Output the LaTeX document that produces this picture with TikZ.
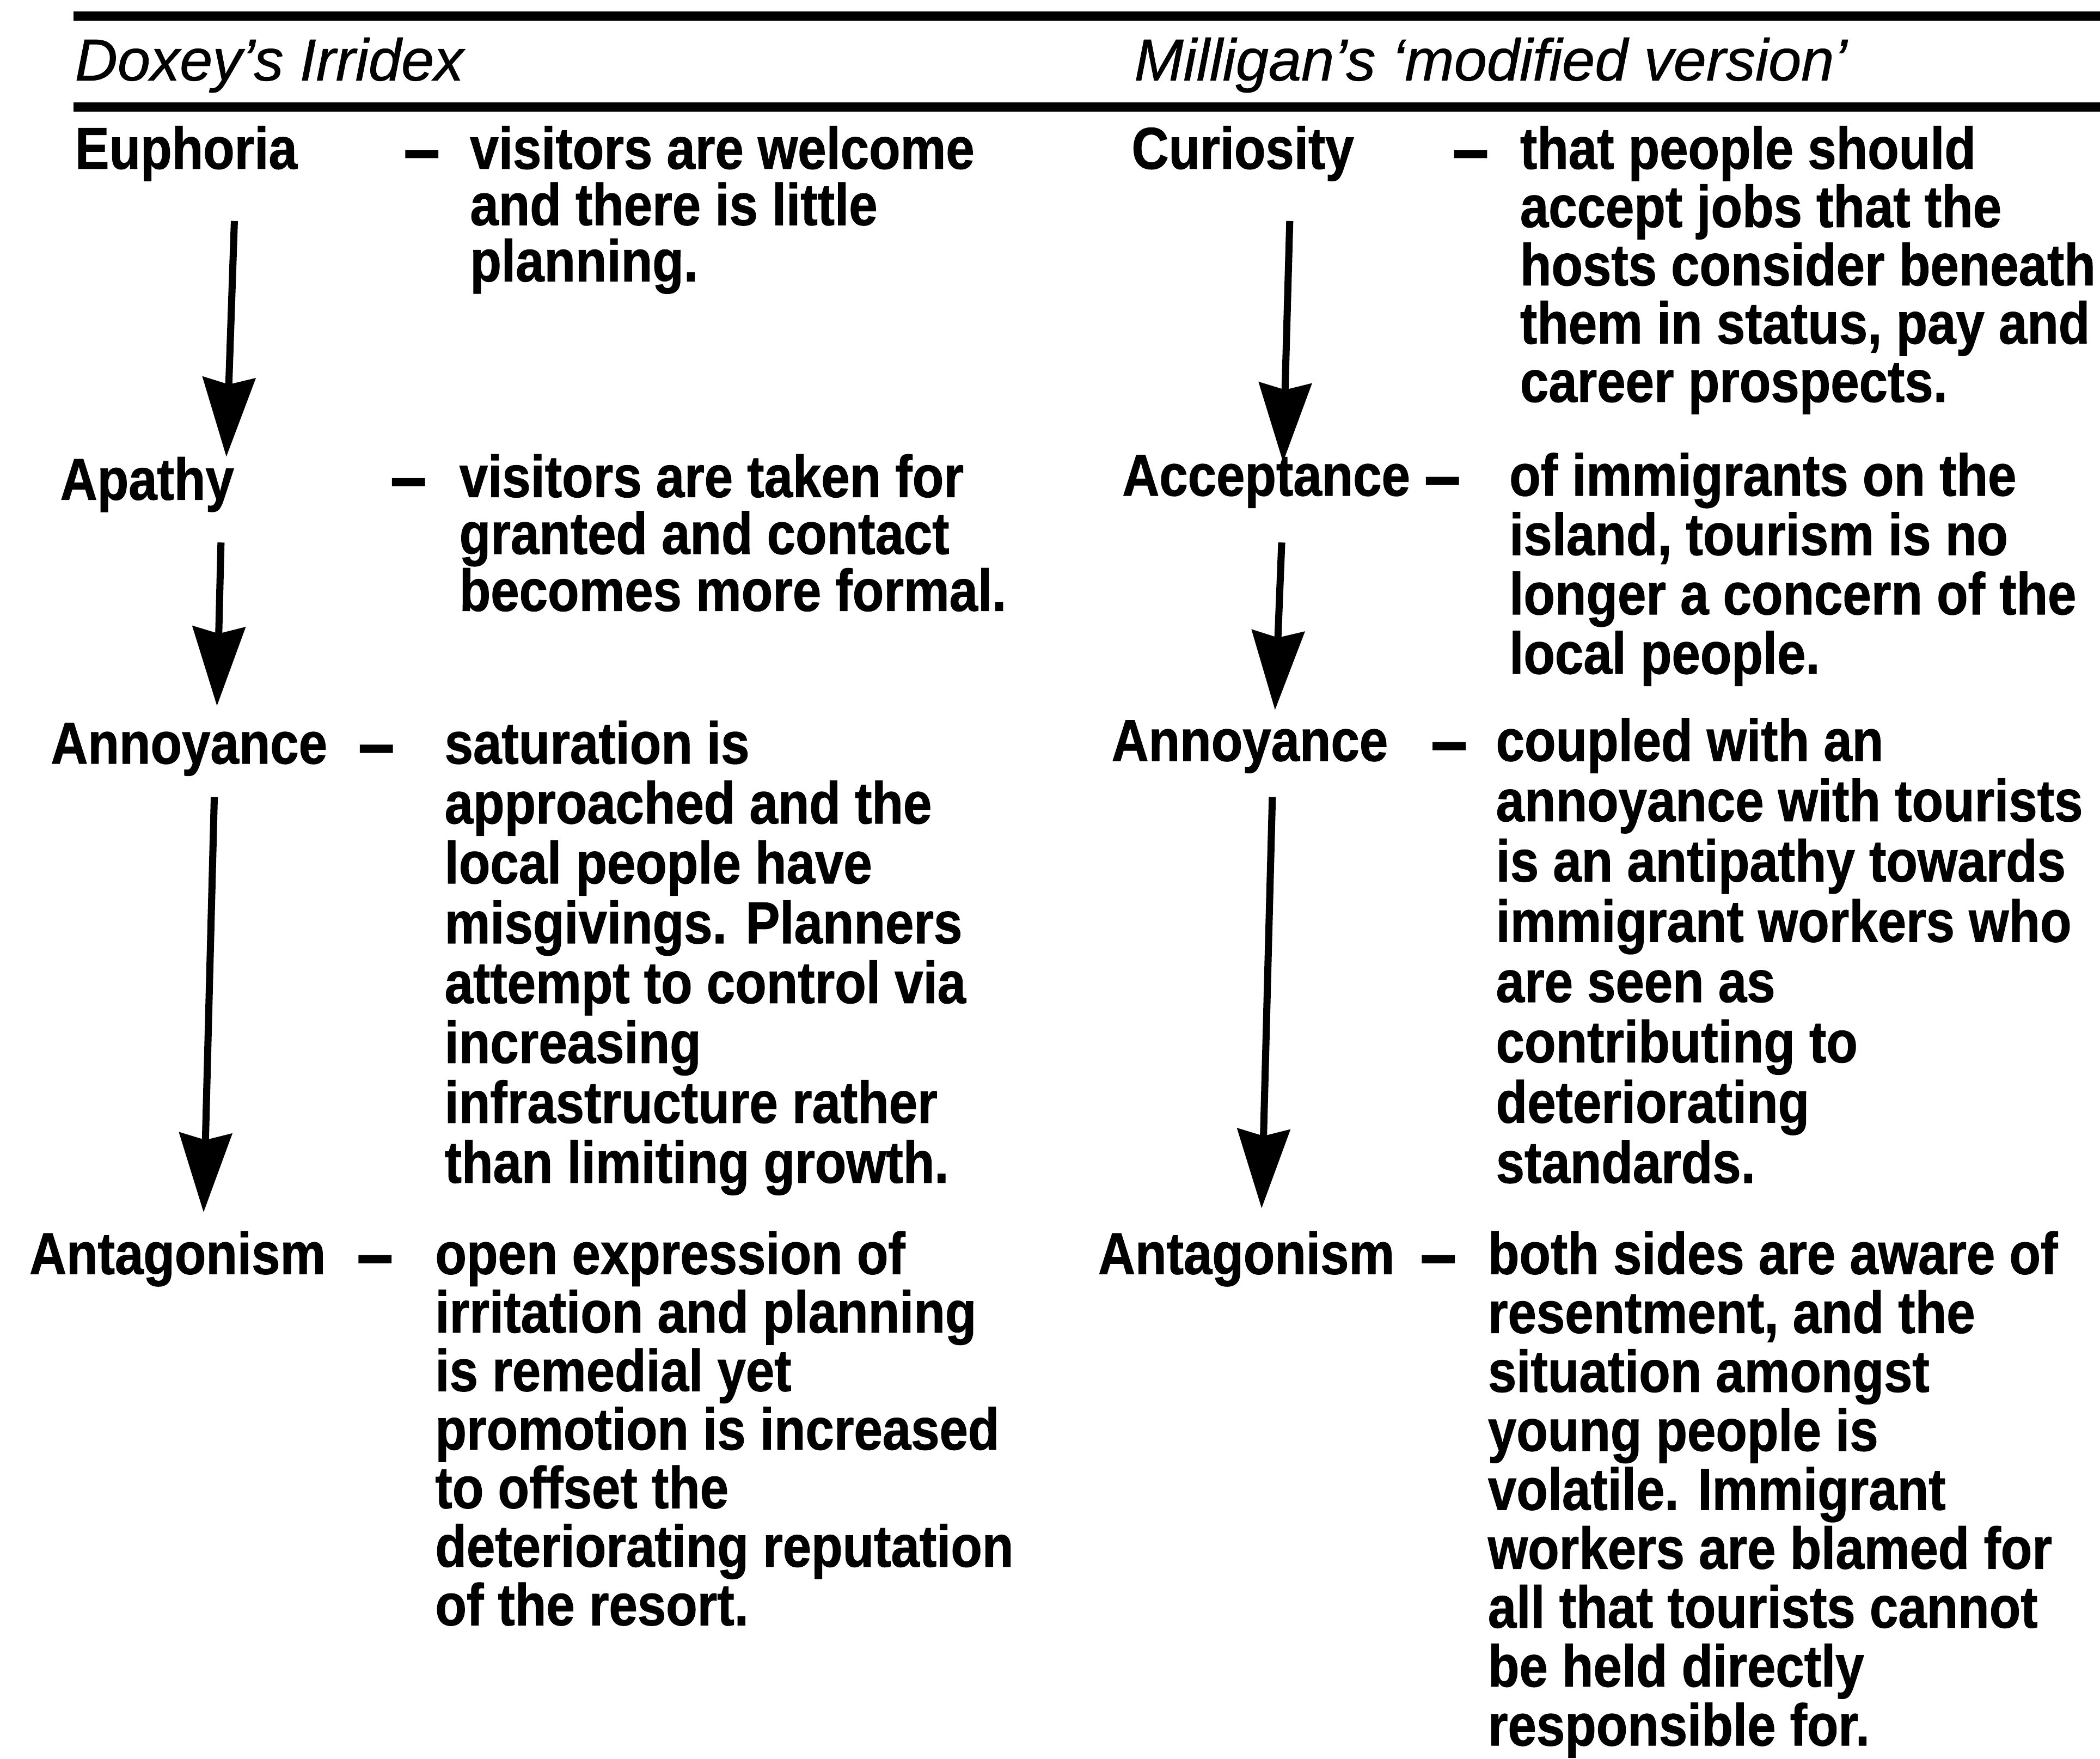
\documentclass[tikz,border=0pt]{standalone}
\usepackage{fontspec}
\setmainfont{Liberation Sans}
\newfontfamily\bodyfont[FakeStretch=0.87,FakeBold=1]{Liberation Sans}
\newfontfamily\headfont[FakeBold=0.8]{Liberation Sans}
\usetikzlibrary{arrows.meta,calc}
\tikzset{
  txt/.style={inner sep=0pt, outer sep=0pt, anchor=base west,
    font=\bodyfont\bfseries\fontsize{44}{44}\selectfont},
  dashmark/.style={inner sep=0pt, outer sep=0pt, anchor=base, yshift=-4pt,
    font=\bodyfont\bfseries\fontsize{56}{56}\selectfont},
  head/.style={inner sep=0pt, outer sep=0pt, anchor=base west,
    font=\headfont\itshape\fontsize{44}{44}\selectfont},
  rule/.style={line width=7pt},
  flow/.style={line width=5.3pt, -{Stealth[length=59pt,width=39pt,inset=5pt]}},
}
% one node per printed line: name, x, first baseline, line step, lines
\newcommand\desclines[5]{%
  \foreach \lineitem [count=\k] in {#5} {%
    \node[txt] (#1-\k) at (#2,{#3+#4*(\k-1)}) {\lineitem};}}

\begin{document}
\begin{tikzpicture}[x=1pt,y=-1pt]
\useasboundingbox (0,0) rectangle (1568,1313);

% table rules
\draw[rule] (55,12) -- (1568,12);
\draw[rule] (55,80) -- (1568,80);

% column headings
\node[head] (hdL) at (56,60) {Doxey’s Irridex};
\node[head] (hdR) at (847,60) {Milligan’s ‘modified version’};

% left column: stages
\node[txt] (eu)  at (56,126) {Euphoria};
\node[txt] (ap)  at (45,373) {Apathy};
\node[txt] (anL) at (38,570) {Annoyance};
\node[txt] (agL) at (22,951) {Antagonism};

\node[dashmark] (euD)  at (315,126) {–};
\node[dashmark] (apD)  at (305,371) {–};
\node[dashmark] (anLD) at (281,570) {–};
\node[dashmark] (agLD) at (280,951) {–};

\desclines{eut}{351}{126}{42}{visitors are welcome, and there is little, planning.}
\desclines{apt}{343}{371}{42.5}{visitors are taken for, granted and contact, becomes more formal.}
\desclines{anLt}{332}{570}{44.7}{saturation is, approached and the, local people have,
  misgivings. Planners, attempt to control via, increasing, infrastructure rather,
  than limiting growth.}
\desclines{agLt}{325}{951}{43.7}{open expression of, irritation and planning,
  is remedial yet, promotion is increased, to offset the, deteriorating reputation,
  of the resort.}

% right column: stages
\node[txt] (cu)  at (845,126) {Curiosity};
\node[txt] (ac)  at (838,370) {Acceptance};
\node[txt] (anR) at (830,568) {Annoyance};
\node[txt] (agR) at (820,951) {Antagonism};

\node[dashmark] (cuD)  at (1098,126) {–};
\node[dashmark] (acD)  at (1077,370) {–};
\node[dashmark] (anRD) at (1082,568) {–};
\node[dashmark] (agRD) at (1074,951) {–};

\desclines{cut}{1135}{126}{43.5}{that people should, accept jobs that the,
  hosts consider beneath, {them in status, pay and}, career prospects.}
\desclines{act}{1127}{370}{44.3}{of immigrants on the, {island, tourism is no},
  longer a concern of the, local people.}
\desclines{anRt}{1117}{568}{45}{coupled with an, annoyance with tourists,
  is an antipathy towards, immigrant workers who, are seen as, contributing to,
  deteriorating, standards.}
\desclines{agRt}{1111}{951}{44}{both sides are aware of, {resentment, and the},
  situation amongst, young people is, volatile. Immigrant, workers are blamed for,
  all that tourists cannot, be held directly, responsible for.}

% progression arrows
\draw[flow] ($(eu.base west)+(119,39)$)  -- ($(ap.base west)+(124,-32)$);
\draw[flow] ($(ap.base west)+(120,32)$)  -- ($(anL.base west)+(124,-43)$);
\draw[flow] ($(anL.base west)+(122,25)$) -- ($(agL.base west)+(130,-46)$);

\draw[flow] ($(cu.base west)+(118,39)$)  -- ($(ac.base west)+(120,-25)$);
\draw[flow] ($(ac.base west)+(119,35)$)  -- ($(anR.base west)+(122,-38)$);
\draw[flow] ($(anR.base west)+(120,27)$) -- ($(agR.base west)+(122,-49)$);
\end{tikzpicture}
\end{document}
